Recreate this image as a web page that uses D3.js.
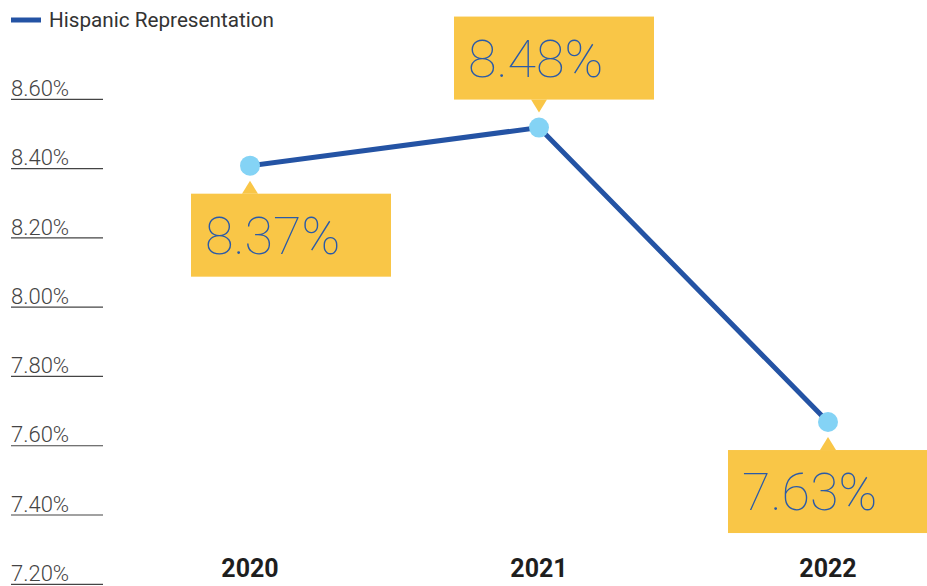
<!DOCTYPE html>
<html>
<head>
<meta charset="utf-8">
<script src="https://cdn.jsdelivr.net/npm/d3@7"></script>
<style>
  html, body { margin: 0; padding: 0; background: #fff; }
  svg { display: block; font-family: Roboto, "Noto Sans", sans-serif; }
</style>
</head>
<body>
<svg id="chart" width="927" height="586"></svg>
<script>
// Hispanic representation by year
const years = ["2020", "2021", "2022"];
const values = [8.37, 8.48, 7.63];
const calloutSide = ["below", "above", "below"];
const yTicks = [8.6, 8.4, 8.2, 8.0, 7.8, 7.6, 7.4, 7.2];
const seriesName = "Hispanic Representation";

const W = 927, H = 586;
const lineColor = "#2453a4";
const dotColor = "#84d3f5";
const boxColor = "#f9c647";

const svg = d3.select("#chart");

const x = d3.scalePoint().domain(years).range([250, 828]);
const y = d3.scaleLinear().domain([7.2, 8.6]).range([571, 86]);

// Legend
const legend = svg.append("g");
legend.append("line")
  .attr("x1", 11).attr("x2", 41).attr("y1", 20).attr("y2", 20)
  .attr("stroke", lineColor).attr("stroke-width", 5);
legend.append("text")
  .attr("x", 49).attr("y", 26.5)
  .attr("font-size", 20.7).attr("fill", "#333")
  .text(seriesName);

// Y axis: label text sitting on a short underline
const ticks = svg.append("g").selectAll("g").data(yTicks).join("g")
  .attr("transform", d => `translate(0,${y(d)})`);
ticks.append("text")
  .attr("x", 11).attr("y", 10)
  .attr("font-size", 22).attr("font-weight", 300).attr("fill", "#444")
  .text(d => d3.format(".2f")(d) + "%");
ticks.append("line")
  .attr("x1", 11).attr("x2", 103).attr("y1", 13.3).attr("y2", 13.3)
  .attr("stroke", "#444").attr("stroke-width", 1.2);

// X axis year labels
svg.append("g").selectAll("text").data(years).join("text")
  .attr("x", d => x(d)).attr("y", 577)
  .attr("text-anchor", "middle")
  .attr("font-size", 25).attr("font-weight", 700).attr("fill", "#1e1e1e")
  .text(d => d);

const pts = years.map((yr, i) => ({ year: yr, value: values[i], side: calloutSide[i] }));

// Line
svg.append("path")
  .datum(pts)
  .attr("fill", "none")
  .attr("stroke", lineColor)
  .attr("stroke-width", 5)
  .attr("d", d3.line().x(d => x(d.year)).y(d => y(d.value)));

// Callouts
const boxW = 200, boxH = 83, gap = 15, pointerH = 13, pointerHalf = 8;
const callouts = svg.append("g").selectAll("g").data(pts).join("g");
callouts.each(function (d) {
  const g = d3.select(this);
  const px = x(d.year), py = y(d.value);
  let left = px + 15 - boxW / 2;
  left = Math.max(191, Math.min(W + 1 - boxW, left));
  const tipY = d.side === "below" ? py + gap : py - gap;
  const baseY = d.side === "below" ? tipY + pointerH : tipY - pointerH;
  const top = d.side === "below" ? baseY : baseY - boxH;
  g.append("rect")
    .attr("x", left).attr("y", top)
    .attr("width", boxW).attr("height", boxH)
    .attr("fill", boxColor);
  g.append("path")
    .attr("d", `M${px - pointerHalf},${baseY}L${px},${tipY}L${px + pointerHalf},${baseY}Z`)
    .attr("fill", boxColor);
  g.append("text")
    .attr("x", left + 14).attr("y", top + 60)
    .attr("font-size", 52).attr("font-weight", 100).attr("fill", "#2a5aa8")
    .text(d3.format(".2f")(d.value) + "%");
});

// Points
svg.append("g").selectAll("circle").data(pts).join("circle")
  .attr("cx", d => x(d.year)).attr("cy", d => y(d.value))
  .attr("r", 10).attr("fill", dotColor);
</script>
</body>
</html>
